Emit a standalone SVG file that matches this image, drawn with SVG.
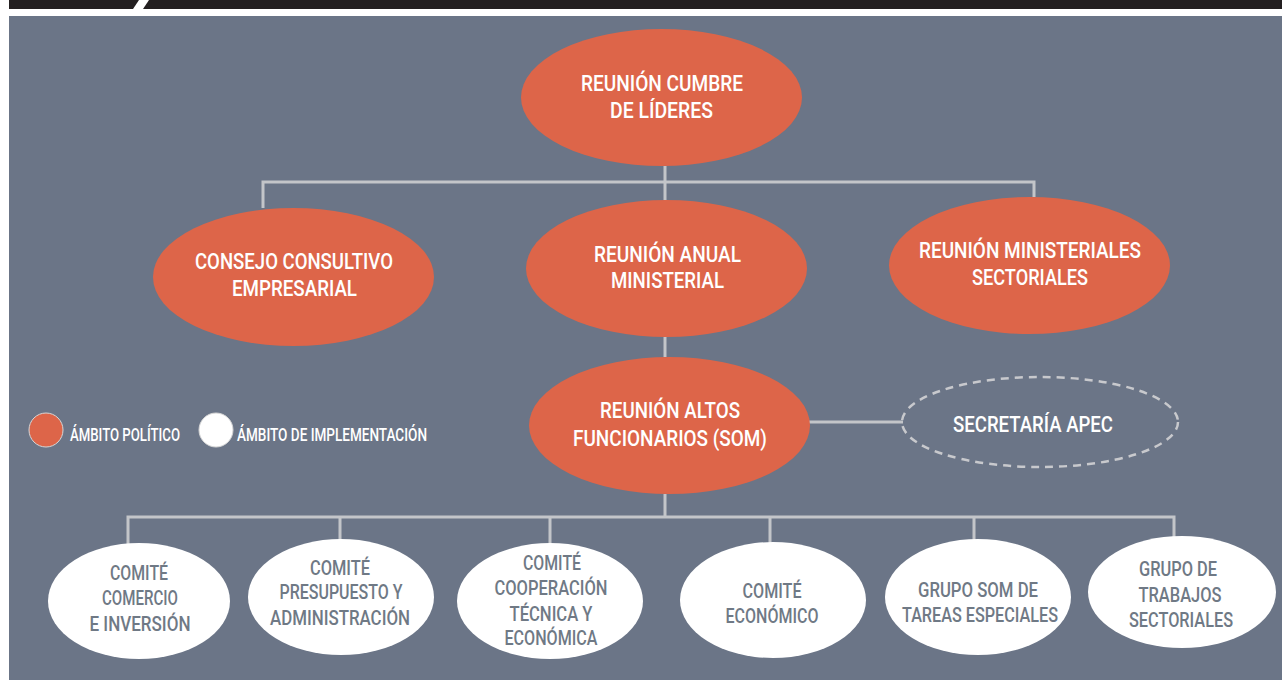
<svg xmlns="http://www.w3.org/2000/svg" width="1282" height="680" viewBox="0 0 1282 680">
<style>
.pol{fill:#dd6549}
.imp{fill:#ffffff}
.tw{fill:#ffffff;font-family:Roboto,"Liberation Sans",sans-serif;font-weight:500;font-size:22.5px;text-anchor:middle}
.tg{fill:#6f7985;font-family:Roboto,"Liberation Sans",sans-serif;font-weight:500;font-size:19.5px;text-anchor:middle}
.tl{fill:#ffffff;font-family:Roboto,"Liberation Sans",sans-serif;font-weight:500;font-size:17.5px}
.ln{fill:none;stroke:#c3c5c9;stroke-width:3}
</style>
<rect x="0" y="0" width="1282" height="680" fill="#ffffff"/>
<polygon points="9,0 139,0 133,9 9,9" fill="#231f20"/>
<polygon points="149,0 1282,0 1282,9 143,9" fill="#231f20"/>
<rect x="9" y="16" width="1273" height="664" fill="#6b7587"/>

<g id="connectors">
<path class="ln" d="M665,166 V200 M263,208 V182 H1034 V197"/>
<path class="ln" d="M665,337 V357"/>
<path class="ln" d="M809,422 H903"/>
<path class="ln" d="M665,494 V517 M128,545 V517 H1174 V537 M340,517 V540 M550,517 V544 M770,517 V543 M974,517 V541"/>
</g>

<g id="legend">
<circle cx="46" cy="430" r="17" class="pol" stroke="#d6d6d6" stroke-width="1"/>
<text class="tl" x="70" y="441" textLength="110" lengthAdjust="spacingAndGlyphs">ÁMBITO POLÍTICO</text>
<circle cx="216" cy="430" r="17" class="imp" stroke="#d6d6d6" stroke-width="1"/>
<text class="tl" x="237" y="441" textLength="190" lengthAdjust="spacingAndGlyphs">ÁMBITO DE IMPLEMENTACIÓN</text>
</g>

<g id="cumbre">
<ellipse cx="661.5" cy="97.5" rx="140.5" ry="68.5" class="pol"/>
<text class="tw" x="662" y="91" textLength="162" lengthAdjust="spacingAndGlyphs">REUNIÓN CUMBRE</text>
<text class="tw" x="661.5" y="117.5" textLength="103" lengthAdjust="spacingAndGlyphs">DE LÍDERES</text>
</g>

<g id="consejo">
<ellipse cx="293.5" cy="277" rx="140.5" ry="69" class="pol"/>
<text class="tw" x="294" y="269" textLength="198" lengthAdjust="spacingAndGlyphs">CONSEJO CONSULTIVO</text>
<text class="tw" x="294.5" y="296" textLength="125" lengthAdjust="spacingAndGlyphs">EMPRESARIAL</text>
</g>

<g id="anual">
<ellipse cx="666.5" cy="268.5" rx="140.5" ry="68.5" class="pol"/>
<text class="tw" x="667.5" y="262" textLength="147" lengthAdjust="spacingAndGlyphs">REUNIÓN ANUAL</text>
<text class="tw" x="667.5" y="288" textLength="113" lengthAdjust="spacingAndGlyphs">MINISTERIAL</text>
</g>

<g id="ministeriales">
<ellipse cx="1029.5" cy="265.5" rx="140.5" ry="68.5" class="pol"/>
<text class="tw" x="1030" y="258" textLength="222" lengthAdjust="spacingAndGlyphs">REUNIÓN MINISTERIALES</text>
<text class="tw" x="1030" y="285" textLength="116" lengthAdjust="spacingAndGlyphs">SECTORIALES</text>
</g>

<g id="som">
<ellipse cx="669.5" cy="425.5" rx="140.5" ry="68.5" class="pol"/>
<text class="tw" x="670" y="418" textLength="140" lengthAdjust="spacingAndGlyphs">REUNIÓN ALTOS</text>
<text class="tw" x="670" y="446" textLength="194" lengthAdjust="spacingAndGlyphs">FUNCIONARIOS (SOM)</text>
</g>

<g id="secretaria">
<ellipse cx="1040" cy="422" rx="138" ry="45" fill="none" stroke="#c8c9cd" stroke-width="2.5" stroke-dasharray="8,6"/>
<text class="tw" x="1033" y="432" textLength="160" lengthAdjust="spacingAndGlyphs">SECRETARÍA APEC</text>
</g>

<g id="comercio">
<ellipse cx="139" cy="601" rx="91" ry="58" class="imp"/>
<text class="tg" x="139" y="580" textLength="58" lengthAdjust="spacingAndGlyphs">COMITÉ</text>
<text class="tg" x="140" y="605" textLength="76" lengthAdjust="spacingAndGlyphs">COMERCIO</text>
<text class="tg" x="140" y="631" textLength="101" lengthAdjust="spacingAndGlyphs">E INVERSIÓN</text>
</g>

<g id="presupuesto">
<ellipse cx="341" cy="597" rx="93" ry="58" class="imp"/>
<text class="tg" x="340" y="575" textLength="60" lengthAdjust="spacingAndGlyphs">COMITÉ</text>
<text class="tg" x="341" y="599" textLength="123" lengthAdjust="spacingAndGlyphs">PRESUPUESTO Y</text>
<text class="tg" x="340" y="625" textLength="140" lengthAdjust="spacingAndGlyphs">ADMINISTRACIÓN</text>
</g>

<g id="cooperacion">
<ellipse cx="550" cy="601" rx="93" ry="58" class="imp"/>
<text class="tg" x="552" y="570" textLength="58" lengthAdjust="spacingAndGlyphs">COMITÉ</text>
<text class="tg" x="551" y="595" textLength="113" lengthAdjust="spacingAndGlyphs">COOPERACIÓN</text>
<text class="tg" x="551" y="621" textLength="83" lengthAdjust="spacingAndGlyphs">TÉCNICA Y</text>
<text class="tg" x="551" y="645" textLength="93" lengthAdjust="spacingAndGlyphs">ECONÓMICA</text>
</g>

<g id="economico">
<ellipse cx="773" cy="600" rx="93" ry="58" class="imp"/>
<text class="tg" x="772" y="598" textLength="59" lengthAdjust="spacingAndGlyphs">COMITÉ</text>
<text class="tg" x="772" y="623" textLength="93" lengthAdjust="spacingAndGlyphs">ECONÓMICO</text>
</g>

<g id="grupo-som">
<ellipse cx="978" cy="597" rx="93" ry="58" class="imp"/>
<text class="tg" x="978" y="597" textLength="120" lengthAdjust="spacingAndGlyphs">GRUPO SOM DE</text>
<text class="tg" x="980" y="622" textLength="156" lengthAdjust="spacingAndGlyphs">TAREAS ESPECIALES</text>
</g>

<g id="grupo-trabajos">
<ellipse cx="1182" cy="592" rx="94" ry="56" class="imp"/>
<text class="tg" x="1178" y="576" textLength="78" lengthAdjust="spacingAndGlyphs">GRUPO DE</text>
<text class="tg" x="1180" y="602" textLength="83" lengthAdjust="spacingAndGlyphs">TRABAJOS</text>
<text class="tg" x="1181" y="627" textLength="104" lengthAdjust="spacingAndGlyphs">SECTORIALES</text>
</g>
</svg>
